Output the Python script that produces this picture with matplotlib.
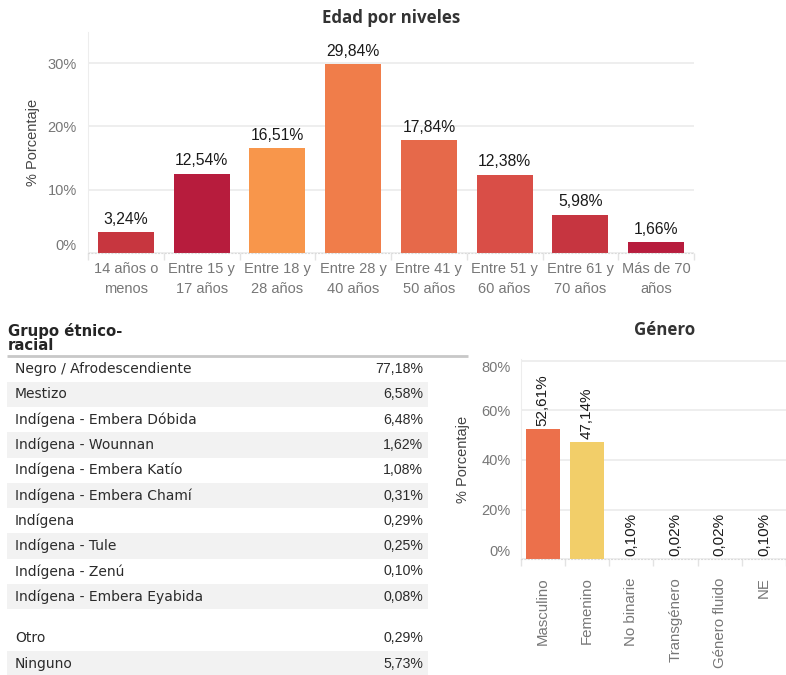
import matplotlib
matplotlib.use("Agg")
import matplotlib.pyplot as plt
import matplotlib.transforms as mtransforms
from matplotlib.patches import Rectangle
import numpy as np

W, H, DPI = 786, 675, 100

# ---- Data -----------------------------------------------------------------
age_labels = ["14 años o\nmenos", "Entre 15 y\n17 años", "Entre 18 y\n28 años",
              "Entre 28 y\n40 años", "Entre 41 y\n50 años", "Entre 51 y\n60 años",
              "Entre 61 y\n70 años", "Más de 70\naños"]
age_pct = [3.24, 12.54, 16.51, 29.84, 17.84, 12.38, 5.98, 1.66]
age_ticks = [0, 10, 20, 30]

ethnic_groups = ["Negro / Afrodescendiente", "Mestizo", "Indígena - Embera Dóbida",
                 "Indígena - Wounnan", "Indígena - Embera Katío",
                 "Indígena - Embera Chamí", "Indígena", "Indígena - Tule",
                 "Indígena - Zenú", "Indígena - Embera Eyabida"]
ethnic_pct = [77.18, 6.58, 6.48, 1.62, 1.08, 0.31, 0.29, 0.25, 0.10, 0.08]
other_groups = ["Otro", "Ninguno"]
other_pct = [0.29, 5.73]

gender_labels = ["Masculino", "Femenino", "No binarie", "Transgénero",
                 "Género fluido", "NE"]
gender_pct = [52.61, 47.14, 0.10, 0.02, 0.02, 0.10]
gender_ticks = [0, 20, 40, 60, 80]

# ---- Styles ---------------------------------------------------------------
age_colors = ["#C7363F", "#B71C3D", "#F8964B", "#F07D4A",
              "#E6694A", "#D94E47", "#C63540", "#B71C3D"]
gender_colors = ["#EC704B", "#F2CE69", "#E6694A", "#E6694A", "#E6694A", "#E6694A"]

SANS = "Liberation Sans"
TICK_GREY = "#777777"
GRID = "#EBEBEB"


def fmt(v):
    return f"{v:.2f}".replace(".", ",") + "%"


def px_axes(fig, left, top, right, bottom):
    return fig.add_axes([left / W, 1 - bottom / H, (right - left) / W, (bottom - top) / H])


def style_bar_axes(ax, n, ymax, ticks, ylabel_x_px):
    ax.set_ylim(0, ymax)
    for s in ("top", "right"):
        ax.spines[s].set_visible(False)
    ax.spines["left"].set_color("#EDEDED")
    ax.spines["bottom"].set_color("#DADADA")
    ax.spines["bottom"].set_linestyle((0, (1, 2)))
    ax.set_yticks(ticks)
    ax.set_yticklabels([])
    ax.tick_params(axis="y", length=0)
    ax.grid(axis="y", color=GRID, linewidth=1.2)
    ax.set_axisbelow(True)
    ax.set_xticks(np.arange(-0.5, n, 1), minor=True)
    ax.tick_params(axis="x", which="minor", length=5, color="#E3E3E3", width=1)
    ax.tick_params(axis="x", which="major", length=0)
    # y tick labels kept inside the axis extent
    tr = mtransforms.blended_transform_factory(ax.transAxes, ax.transData)
    off = mtransforms.ScaledTranslation(-ylabel_x_px / DPI, 0, ax.figure.dpi_scale_trans)
    for t in ticks:
        va = "center_baseline"
        if t == ticks[0]:
            va = "bottom"
        elif t >= ymax * 0.99:
            va = "top"
        ax.text(0, t, f"{t}%", transform=tr + off, ha="right", va=va,
                fontsize=10.5, color=TICK_GREY, family=SANS)


fig = plt.figure(figsize=(W / DPI, H / DPI), dpi=DPI)
fig.patch.set_facecolor("white")

# ---- Age chart ------------------------------------------------------------
ax1 = px_axes(fig, 88, 32, 694, 252.7)
x1 = np.arange(len(age_pct))
ax1.bar(x1, age_pct, width=0.74, color=age_colors, zorder=2)
ax1.set_xlim(-0.5, len(age_pct) - 0.5)
style_bar_axes(ax1, len(age_pct), 34.96, age_ticks, 11)
ax1.set_xticks(x1)
ax1.set_xticklabels(age_labels, fontsize=10.5, color=TICK_GREY, family=SANS,
                    linespacing=1.55)
ax1.tick_params(axis="x", which="major", pad=7)
for xi, v in zip(x1, age_pct):
    ax1.annotate(fmt(v), (xi, v), xytext=(0, 4), textcoords="offset points",
                 ha="center", va="bottom", fontsize=11.3, color="#1A1A1A", family=SANS)
ax1.set_ylabel("% Porcentaje", fontsize=10.5, color="#444444", family=SANS, labelpad=31)
fig.text(391 / W, 1 - 18 / H, "Edad por niveles", ha="center", va="center",
         fontsize=12.2, fontweight="bold", color="#333333", family="Open Sans")

# ---- Gender chart ---------------------------------------------------------
ax2 = px_axes(fig, 520.7, 359.3, W, 559.3)
x2 = np.arange(len(gender_pct))
ax2.bar(x2, gender_pct, width=0.78, color=gender_colors, zorder=2)
ax2.set_xlim(-0.5, -0.5 + (W - 520.7) / 46.0)
style_bar_axes(ax2, len(gender_pct), 80.5, gender_ticks, 10)
ax2.set_xticks(x2)
ax2.set_xticklabels(gender_labels, rotation=90, fontsize=10.8, color=TICK_GREY,
                    family=SANS)
ax2.tick_params(axis="x", which="major", pad=13)
for xi, v in zip(x2, gender_pct):
    ax2.annotate(fmt(v), (xi, v), xytext=(0, 2), textcoords="offset points",
                 ha="center", va="bottom", rotation=90, fontsize=11,
                 color="#1A1A1A", family=SANS)
ax2.set_ylabel("% Porcentaje", fontsize=10.5, color="#444444", family=SANS, labelpad=33)
fig.text(665 / W, 1 - 330 / H, "Género", ha="center", va="center",
         fontsize=12.2, fontweight="bold", color="#333333", family="Open Sans")

# ---- Ethnic table ---------------------------------------------------------
tab = fig.add_axes([0, 0, 1, 1], zorder=-1)
tab.set_xlim(0, W)
tab.set_ylim(H, 0)
tab.axis("off")

tab.text(8, 338, "Grupo étnico-\nracial", ha="left", va="center", fontsize=10.7,
         fontweight="bold", color="#252525", family="DejaVu Sans", linespacing=0.92)
tab.plot([7, 468], [356, 356], color="#C8C8C8", lw=2, solid_capstyle="butt")

row0, row_h, gap = 369.0, 25.3, 16.5
names = ethnic_groups + other_groups
values = ethnic_pct + other_pct
for i, (name, val) in enumerate(zip(names, values)):
    yc = row0 + row_h * i + (gap if i >= len(ethnic_groups) else 0)
    if i % 2 == 1:
        tab.add_patch(Rectangle((7, yc - row_h / 2), 421, row_h,
                                facecolor="#F2F2F2", edgecolor="none"))
    tab.text(15, yc, name, ha="left", va="center", fontsize=10,
             color="#2B2B2B", family="DejaVu Sans")
    tab.text(423, yc, fmt(val), ha="right", va="center", fontsize=10.2,
             color="#2B2B2B", family=SANS)

fig.savefig("out.png", dpi=DPI, facecolor="white")
